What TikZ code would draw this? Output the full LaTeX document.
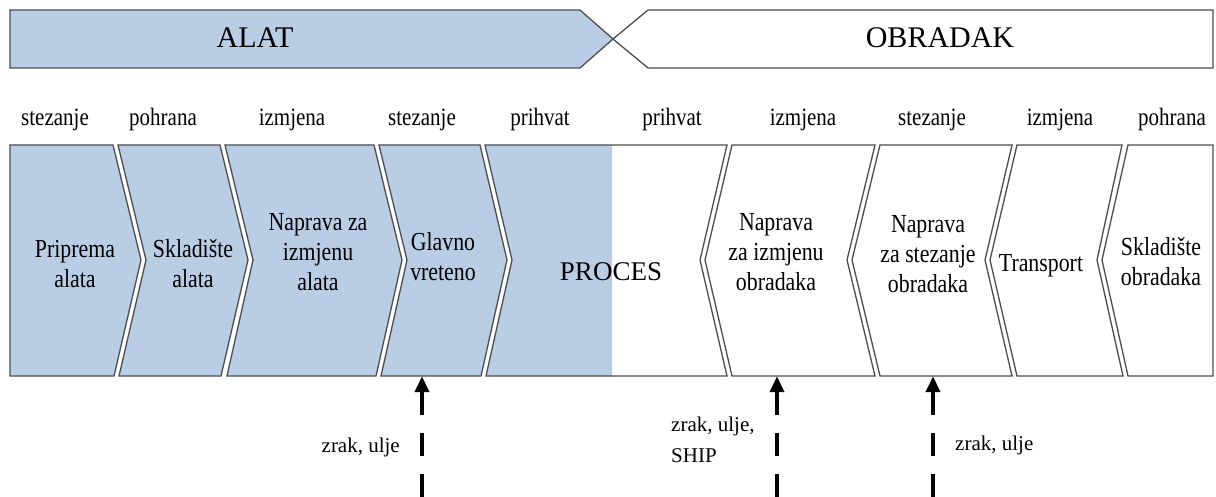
\documentclass[tikz,border=0pt]{standalone}
\usepackage{fontspec}
\setmainfont{Liberation Serif}
\newfontfamily\narrowfont[FakeStretch=0.84]{Liberation Serif}
\usetikzlibrary{arrows.meta}
\definecolor{boxblue}{HTML}{B9CDE5}
\definecolor{edge}{HTML}{4D4D4D}
\begin{document}
\begin{tikzpicture}[x=1pt,y=-1pt,
  chev/.style={draw=edge, line width=1.3pt, line join=miter},
  boxtext/.style={font=\narrowfont\fontsize{26}{30}\selectfont, align=center, inner sep=0pt},
  steplabel/.style={font=\narrowfont\fontsize{25}{28}\selectfont, anchor=base, inner sep=0pt},
  bannertext/.style={font=\fontsize{30}{32}\selectfont, anchor=base, inner sep=0pt},
  note/.style={font=\fontsize{21}{31}\selectfont, inner sep=0pt, align=left},
  flow/.style={line width=4.5pt, dash pattern=on 23pt off 18pt, -{Triangle[length=16pt,width=14pt]}}
]
\fill[white] (0,0) rectangle (1216,497);
\useasboundingbox (0,0) rectangle (1216,497);

% banner
\draw[chev, fill=white] (1213,10) -- (648,10) -- (613,39) -- (648,68) -- (1213,68) -- cycle;
\draw[chev, fill=boxblue] (10,10) -- (580,10) -- (613,39) -- (580,68) -- (10,68) -- cycle;
\node[bannertext] (alat) at (255,48) {ALAT};
\node[bannertext] (obradak) at (940,48) {OBRADAK};

% step labels
\node[steplabel] (l1) at (55,126) {stezanje};
\node[steplabel] (l2) at (163,126) {pohrana};
\node[steplabel] (l3) at (292,126) {izmjena};
\node[steplabel] (l4) at (422,126) {stezanje};
\node[steplabel] (l5) at (540,126) {prihvat};
\node[steplabel] (l6) at (672,126) {prihvat};
\node[steplabel] (l7) at (803,126) {izmjena};
\node[steplabel] (l8) at (932,126) {stezanje};
\node[steplabel] (l9) at (1060,126) {izmjena};
\node[steplabel] (l10) at (1172,126) {pohrana};

% chevrons
\draw[chev, fill=boxblue] (10,145) -- (113,145) -- (141,260) -- (114,376) -- (10,376) -- cycle;
\draw[chev, fill=boxblue] (118,145) -- (220,145) -- (248,260) -- (221,376) -- (119,376) -- (146,260) -- cycle;
\draw[chev, fill=boxblue] (225,145) -- (374,145) -- (402,260) -- (376,376) -- (227,376) -- (253,260) -- cycle;
\draw[chev, fill=boxblue] (379,145) -- (480,145) -- (507,260) -- (481,376) -- (381,376) -- (407,260) -- cycle;
\fill[white] (485,145) -- (727,145) -- (700,260) -- (727,376) -- (486,376) -- (512,260) -- cycle;
\begin{scope}
  \clip (0,0) rectangle (612,497);
  \fill[boxblue] (485,145) -- (727,145) -- (700,260) -- (727,376) -- (486,376) -- (512,260) -- cycle;
\end{scope}
\draw[chev] (485,145) -- (727,145) -- (700,260) -- (727,376) -- (486,376) -- (512,260) -- cycle;
\draw[chev, fill=white] (732,145) -- (875,145) -- (847,260) -- (875,376) -- (732,376) -- (705,260) -- cycle;
\draw[chev, fill=white] (880,145) -- (1012,145) -- (985,260) -- (1012,376) -- (880,376) -- (852,260) -- cycle;
\draw[chev, fill=white] (1017,145) -- (1122,145) -- (1097,260) -- (1123,376) -- (1017,376) -- (990,260) -- cycle;
\draw[chev, fill=white] (1128,145) -- (1213,145) -- (1213,376) -- (1128,376) -- (1102,260) -- cycle;

% box texts
\node[boxtext] (t1) at (75,264) {Priprema\\alata};
\node[boxtext] (t2) at (193,264) {Skladište\\alata};
\node[boxtext] (t3) at (318,252) {Naprava za\\izmjenu\\alata};
\node[boxtext, minimum height=238pt] (t4) at (443,257) {Glavno\\vreteno};
\node[font=\fontsize{27}{30}\selectfont, inner sep=0pt, anchor=base] (t5) at (611,280) {PROCES};
\node[boxtext, minimum height=247pt] (t6) at (776,252.5) {Naprava\\za izmjenu\\obradaka};
\node[boxtext, minimum height=243pt] (t7) at (928,254.5) {Naprava\\za stezanje\\obradaka};
\node[boxtext] (t8) at (1041,266) {Transport};
\node[boxtext] (t9) at (1161,262) {Skladište\\obradaka};

% supply arrows
\coordinate (s1) at (422,497);
\coordinate (s2) at (777,497);
\coordinate (s3) at (933,497);
\draw[flow] (s1) -- (s1 |- t4.south);
\draw[flow] (s2) -- (s2 |- t6.south);
\draw[flow] (s3) -- (s3 |- t7.south);

\node[note, anchor=base east] (n1) at (400,452) {zrak, ulje};
\node[note, anchor=west] (n2) at (671,440) {zrak, ulje,\\SHIP};
\node[note, anchor=base west] (n3) at (955,450) {zrak, ulje};
\end{tikzpicture}
\end{document}
